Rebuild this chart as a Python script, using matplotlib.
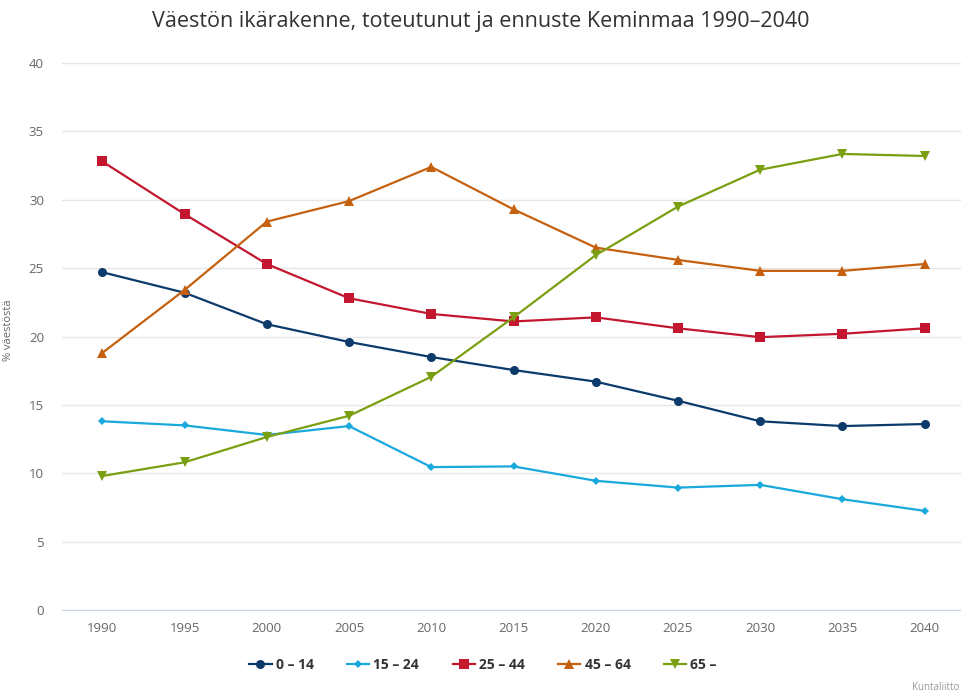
import matplotlib.pyplot as plt
from matplotlib.lines import Line2D

years = [1990, 1995, 2000, 2005, 2010, 2015, 2020, 2025, 2030, 2035, 2040]
age_0_14 = [24.7, 23.2, 20.9, 19.6, 18.5, 17.55, 16.7, 15.3, 13.8, 13.45, 13.6]
age_15_24 = [13.8, 13.5, 12.8, 13.45, 10.45, 10.5, 9.45, 8.95, 9.15, 8.1, 7.25]
age_25_44 = [32.8, 28.95, 25.3, 22.8, 21.65, 21.1, 21.4, 20.6, 19.95, 20.2, 20.6]
age_45_64 = [18.8, 23.4, 28.4, 29.9, 32.4, 29.3, 26.5, 25.6, 24.8, 24.8, 25.3]
age_65 = [9.8, 10.8, 12.65, 14.2, 17.05, 21.4, 25.95, 29.5, 32.2, 33.35, 33.2]

series_labels = ['0 – 14', '15 – 24', '25 – 44', '45 – 64', '65 –']
series_values = [age_0_14, age_15_24, age_25_44, age_45_64, age_65]
colors = ['#0c3a6b', '#1aa9dc', '#c2172f', '#c5600f', '#7a9f10']
markers = ['o', 'D', 's', '^', 'v']
msizes = [6.5, 4.5, 6.5, 6.5, 6.5]

plt.rcParams['font.family'] = ['Open Sans', 'DejaVu Sans']

fig = plt.figure(figsize=(9.62, 6.93), dpi=100)
ax = fig.add_axes([62 / 962, 83 / 693, 903 / 962, 547 / 693])

for vals, lab, c, m, ms in zip(series_values, series_labels, colors, markers, msizes):
    ax.plot(years, vals, color=c, lw=1.6, marker=m, markersize=ms,
            markeredgewidth=0, label=lab, zorder=3)

ax.set_xlim(1987.55, 2042.45)
ax.set_ylim(0, 40)
ax.set_xticks(years)
ax.set_yticks(range(0, 41, 5))
ax.grid(axis='y', color='#e6e6e6', lw=1)
ax.set_axisbelow(True)
for s in ['top', 'right', 'left']:
    ax.spines[s].set_visible(False)
ax.spines['bottom'].set_color('#ccd6eb')
ax.tick_params(axis='y', length=0, pad=13, labelsize=9.5, labelcolor='#666666')
ax.tick_params(axis='x', length=0, pad=9, labelsize=9.5, labelcolor='#666666')

fig.text(0.5, 1 - 22 / 693, 'Väestön ikärakenne, toteutunut ja ennuste Keminmaa 1990–2040',
         ha='center', va='center', fontsize=15.5, color='#333333')
fig.text(9 / 962, 1 - 330 / 693, '% väestöstä', rotation=90, ha='center', va='center',
         fontsize=8, color='#666666')
fig.text(912 / 962, 1 - 687 / 693, 'Kuntaliitto', ha='left', va='center',
         fontsize=7, color='#999999')

handles = [Line2D([], [], color=c, lw=1.6, marker=m, markersize=ms, markeredgewidth=0)
           for c, m, ms in zip(colors, markers, msizes)]
leg = fig.legend(handles, series_labels, loc='center', bbox_to_anchor=(483 / 962, 1 - 665 / 693),
                 ncol=5, frameon=False, handlelength=1.6, handletextpad=0.3, columnspacing=2.4,
                 prop={'size': 10, 'weight': 'bold'})
for t in leg.get_texts():
    t.set_color('#333333')

fig.savefig('out.png', dpi=100)
